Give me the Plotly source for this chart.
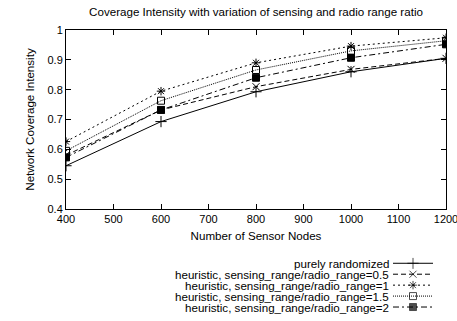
import plotly.graph_objects as go

nodes = [400, 600, 800, 1000, 1200]
purely_randomized = [0.545, 0.693, 0.793, 0.860, 0.905]
ratio_0_5 = [0.580, 0.732, 0.810, 0.868, 0.905]
ratio_1 = [0.626, 0.795, 0.890, 0.946, 0.974]
ratio_1_5 = [0.595, 0.763, 0.866, 0.930, 0.964]
ratio_2 = [0.573, 0.732, 0.840, 0.907, 0.952]

names = [
    "purely randomized",
    "heuristic, sensing_range/radio_range=0.5",
    "heuristic, sensing_range/radio_range=1",
    "heuristic, sensing_range/radio_range=1.5",
    "heuristic, sensing_range/radio_range=2",
]
series = [purely_randomized, ratio_0_5, ratio_1, ratio_1_5, ratio_2]
dashes = ["solid", "5px,3px", "2px,3px", "1px,1px", "6px,3px,2px,3px"]
symbols = ["cross-thin-open", "x-thin-open", "asterisk-open", "square-open", "square"]
msizes = [8, 7, 7, 7, 7]

W, H = 457, 321
L, R, T, B = 66, 446, 30, 209
FONT = "Liberation Sans, Arial, sans-serif"
TXT = 11.6

fig = go.Figure()
for vals, nm, ds, sy, ms in zip(series, names, dashes, symbols, msizes):
    fig.add_trace(go.Scatter(
        x=nodes, y=vals, mode="lines+markers", name=nm, showlegend=False,
        line=dict(color="black", width=1, dash=ds),
        marker=dict(symbol=sy, size=ms, color="black",
                    line=dict(color="black", width=1)),
        xaxis="x", yaxis="y"))

# custom legend samples (text on the left, sample on the right)
for i, (nm, ds, sy, ms) in enumerate(zip(names, dashes, symbols, msizes)):
    fig.add_trace(go.Scatter(
        x=[0, 0.5, 1], y=[i, i, i], mode="lines+markers", showlegend=False,
        line=dict(color="black", width=1, dash=ds),
        marker=dict(symbol=sy, size=[0, ms, 0], color="black",
                    line=dict(color="black", width=1)),
        xaxis="x2", yaxis="y2", hoverinfo="skip"))
    fig.add_annotation(x=390 / W, xref="paper", xanchor="right",
                       y=i, yref="y2", yanchor="middle", text=nm,
                       borderpad=0,
                       showarrow=False, font=dict(size=TXT, color="black", family=FONT))

axis_common = dict(showgrid=False, zeroline=False, showline=True, linecolor="black",
                   linewidth=1, mirror="ticks", ticks="inside", ticklen=5,
                   tickcolor="black", automargin=False, ticklabeloverflow="allow",
                   tickfont=dict(size=11, color="black", family=FONT))

fig.update_layout(
    width=W, height=H,
    margin=dict(l=0, r=0, t=T, b=0, autoexpand=False),
    paper_bgcolor="white", plot_bgcolor="white",
    font=dict(family=FONT, size=11, color="black"),
    title=dict(text="Coverage Intensity with variation of sensing and radio range ratio",
               x=(L + R) / 2 / W, xanchor="center", y=1 - 12 / H, yanchor="middle",
               xref="paper", yref="container",
               font=dict(size=TXT, color="black", family=FONT)),
    xaxis=dict(domain=[L / W, R / W], range=[400, 1200], dtick=100, tick0=400,
               title=dict(text="Number of Sensor Nodes", standoff=7,
                          font=dict(size=TXT, color="black", family=FONT)),
               anchor="y", **axis_common),
    yaxis=dict(domain=[(H - B) / (H - T), 1], range=[0.4, 1.0], dtick=0.1, tick0=0.4,
               title=dict(text="Network Coverage Intensity", standoff=10,
                          font=dict(size=TXT, color="black", family=FONT)),
               anchor="x", **axis_common),
    xaxis2=dict(domain=[393 / W, 433 / W], range=[0, 1], visible=False, anchor="y2"),
    yaxis2=dict(domain=[(H - 312.5) / (H - T), (H - 257.8) / (H - T)],
                range=[4.5, -0.5], visible=False, anchor="x2"),
)

fig.write_html("out.html")
